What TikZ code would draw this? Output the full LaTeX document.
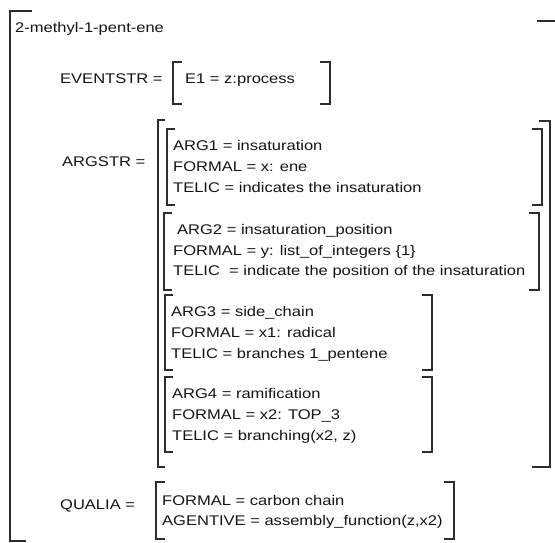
\documentclass[tikz,border=0pt]{standalone}
\usepackage{fontspec}
\setmainfont{Liberation Sans}[FakeStretch=1.18]
\usetikzlibrary{positioning}
\definecolor{ink}{RGB}{20,20,20}
\definecolor{rule}{RGB}{45,45,45}

\begin{document}
\begin{tikzpicture}[x=1pt,y=-1pt,
    txt/.style={anchor=base west,inner sep=0pt,text=ink,font=\fontsize{14}{17}\selectfont},
    brk/.style={draw=rule,line width=2pt}]
  \useasboundingbox (0,0) rectangle (555,542);
  % outer frame
  \draw[brk] (32,10.5) -| (9.5,540.5) -- (26,540.5);
  \draw[brk] (537,20.7) -- (555,20.7);
  \node[txt] (title) at (15,32) {2-methyl-1-pent-ene};
  % event structure
  \node[txt] (evlab) at (60,83) {EVENTSTR =};
  \draw[brk] (182,61.7) -| (173.3,103.5) -- (182,103.5);
  \draw[brk] (320,61.7) -| (329.5,103.5) -- (320,103.5);
  \node[txt] (ev1) at (185,83) {E1 = z:process};
  % argument structure
  \node[txt] (arglab) at (62,166) {ARGSTR =};
  \draw[brk] (165,119.5) -| (158,467) -- (165,467);
  \draw[brk] (539,120.5) -| (549.5,467.3) -- (531.7,467.3);
  \foreach \lx/\rx/\top/\bot in {166.7/541.7/128.5/205, 164/539/213/290,
      165/431.7/295/370, 165/431.7/377/452}{
    \draw[brk] (\lx+8,\top) -| (\lx,\bot) -- (\lx+8,\bot);
    \draw[brk] (\rx-10,\top) -| (\rx,\bot) -- (\rx-10,\bot);
  }
  \foreach \t [count=\i from 0] in {{ARG1 = insaturation},{FORMAL = x: ene},
      {TELIC = indicates the insaturation}}
    \node[txt] (aone\i) at (173,150+\i*21) {\t};
  \node[txt] (atwo) at (177,234) {ARG2 = insaturation\_position};
  \foreach \t [count=\i from 0] in {{FORMAL = y: list\_of\_integers \{1\}},
      {TELIC\ \ = indicate the position of the insaturation}}
    \node[txt] (atwo\i) at (173,255+\i*20) {\t};
  \foreach \t [count=\i from 0] in {{ARG3 = side\_chain},{FORMAL = x1: radical},
      {TELIC = branches 1\_pentene}}
    \node[txt] (athree\i) at (171,316+\i*21) {\t};
  \foreach \t [count=\i from 0] in {{ARG4 = ramification},{FORMAL = x2: TOP\_3},
      {TELIC = branching(x2, z)}}
    \node[txt] (afour\i) at (172,398+\i*21) {\t};
  % qualia
  \node[txt] (qlab) at (60,509) {QUALIA =};
  \draw[brk] (165,482) -| (156,539) -- (165,539);
  \draw[brk] (444,482) -| (454,539) -- (444,539);
  \node[txt] (qform) at (162,505) {FORMAL = carbon chain};
  \node[txt] (qagent) at (162,525) {AGENTIVE = assembly\_function(z,x2)};
\end{tikzpicture}
\end{document}
